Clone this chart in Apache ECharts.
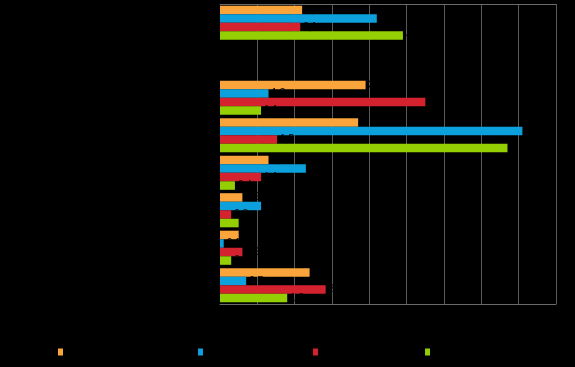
<!DOCTYPE html>
<html><head><meta charset="utf-8">
<script src="https://cdn.jsdelivr.net/npm/echarts@6/dist/echarts.min.js"></script>
<style>html,body{margin:0;padding:0;background:#000;}#c{width:575px;height:367px;}</style>
</head><body><div id="c"></div>
<script>
var categories = ['Category 1', '', 'Category 2', 'Category 3', 'Category 4', 'Category 5', 'Category 6', 'Category 7'];
var seriesNames = ['Series 1', 'Series 2', 'Series 3', 'Series 4'];
var s1 = [2.2, null, 3.9, 3.7, 1.3, 0.6, 0.5, 2.4];
var s2 = [4.2, null, 1.3, 8.1, 2.3, 1.1, 0.1, 0.7];
var s3 = [2.15, null, 5.5, 1.53, 1.1, 0.3, 0.6, 2.83];
var s4 = [4.9, null, 1.1, 7.7, 0.4, 0.5, 0.3, 1.8];
var xTicks = [0, 1, 2, 3, 4, 5, 6, 7, 8, 9];

var colors = ['#F9A53C', '#0CA0DC', '#D5222F', '#93CF03'];
var values = [s1, s2, s3, s4];
var legendX = [53, 193, 308, 420];

var chart = echarts.init(document.getElementById('c'), null, {renderer: 'canvas'});
var series = values.map(function (v, i) {
  return {
    name: seriesNames[i], type: 'bar', data: v,
    barGap: '0%', barCategoryGap: '9%',
    itemStyle: {color: colors[i]},
    label: {show: true, position: 'right', color: '#000', fontSize: 10, distance: 3,
      formatter: function (p) { return p.value == null ? '' : p.value.toFixed(1).replace('.', ','); }}
  };
});
var legends = seriesNames.map(function (n, i) {
  return {
    data: [n], left: legendX[i], top: 342, itemWidth: 5, itemHeight: 7,
    icon: 'rect', textStyle: {color: '#000', fontSize: 10}, selectedMode: false
  };
});
chart.setOption({
  backgroundColor: '#000',
  animation: false,
  color: colors,
  legend: legends,
  grid: {left: 220, right: 19, top: 4, bottom: 63, containLabel: false},
  xAxis: [{
    type: 'value', min: xTicks[0], max: xTicks[xTicks.length - 1], interval: 1,
    axisLine: {show: true, lineStyle: {color: '#6b6b6b'}},
    axisTick: {show: false},
    splitLine: {show: true, lineStyle: {color: '#5a5a5a'}},
    axisLabel: {color: '#000', fontSize: 10}
  }, {
    type: 'value', position: 'top', min: 0, max: 9, interval: 1,
    axisLine: {show: true, lineStyle: {color: '#6b6b6b'}},
    axisTick: {show: false}, axisLabel: {show: false}, splitLine: {show: false}
  }],
  yAxis: {
    type: 'category', data: categories, inverse: true,
    axisLine: {show: true, lineStyle: {color: '#000'}},
    axisTick: {show: false},
    axisLabel: {color: '#000', fontSize: 10}
  },
  series: series
});
</script></body></html>
